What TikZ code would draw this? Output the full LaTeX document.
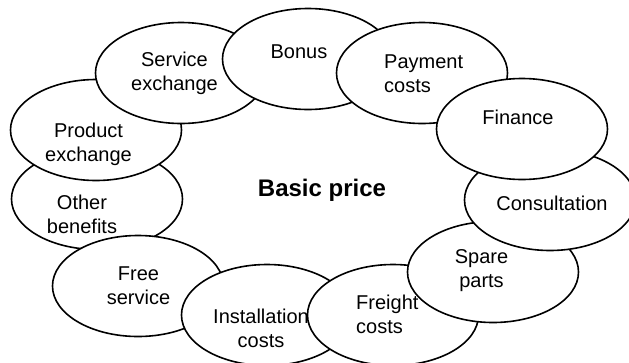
\documentclass[tikz,border=0pt]{standalone}
\usepackage{fontspec}
\setmainfont{Liberation Sans}
\usetikzlibrary{shapes.geometric}
\begin{document}
\begin{tikzpicture}[x=1pt,y=-1pt,
  ell/.style={ellipse,draw=black,fill=white,line width=1.6pt,minimum width=171pt,minimum height=101pt,inner sep=0pt},
  lbl/.style={font=\fontsize{20}{24}\selectfont,align=center,inner sep=0pt},
  lbll/.style={font=\fontsize{20}{24}\selectfont,align=left,inner sep=0pt,anchor=west},
  title/.style={font=\fontsize{24}{28}\selectfont\bfseries,inner sep=0pt}]
\useasboundingbox (0,0) rectangle (629,362);
% ellipses, back to front
\node[ell] (oth) at (97,199) {};
\node[ell] (fre) at (138,286) {};
\node[ell] (ins) at (267,315) {};
\node[ell] (frt) at (393,315) {};
\node[ell] (spa) at (493,272) {};
\node[ell] (con) at (550,200) {};
\node[ell] (pro) at (96,130) {};
\node[ell] (ser) at (181,73) {};
\node[ell] (bon) at (308,59) {};
\node[ell] (pay) at (422,73) {};
\node[ell] (fin) at (522,129) {};
% labels
\node[lbl] (tOth) at (82,214) {Other\\benefits};
\node[lbl] (tFre) at (138.5,286) {Free\\service};
\node[lbl] (tIns) at (261,328) {Installation\\costs};
\node[lbll] (tFrt) at (356,314) {Freight\\costs};
\node[lbl] (tSpa) at (481.5,271) {Spare\\parts};
\node[lbl] (tCon) at (552,203) {Consultation};
\node[lbl] (tPro) at (88.5,144) {Product\\exchange};
\node[lbl] (tSer) at (174.5,73) {Service\\exchange};
\node[lbl] (tBon) at (299,52) {Bonus};
\node[lbll] (tPay) at (384,74) {Payment\\costs};
\node[lbl] (tFin) at (518,117) {Finance};
\node[title] (basic) at (322,190) {Basic price};
\end{tikzpicture}
\end{document}
